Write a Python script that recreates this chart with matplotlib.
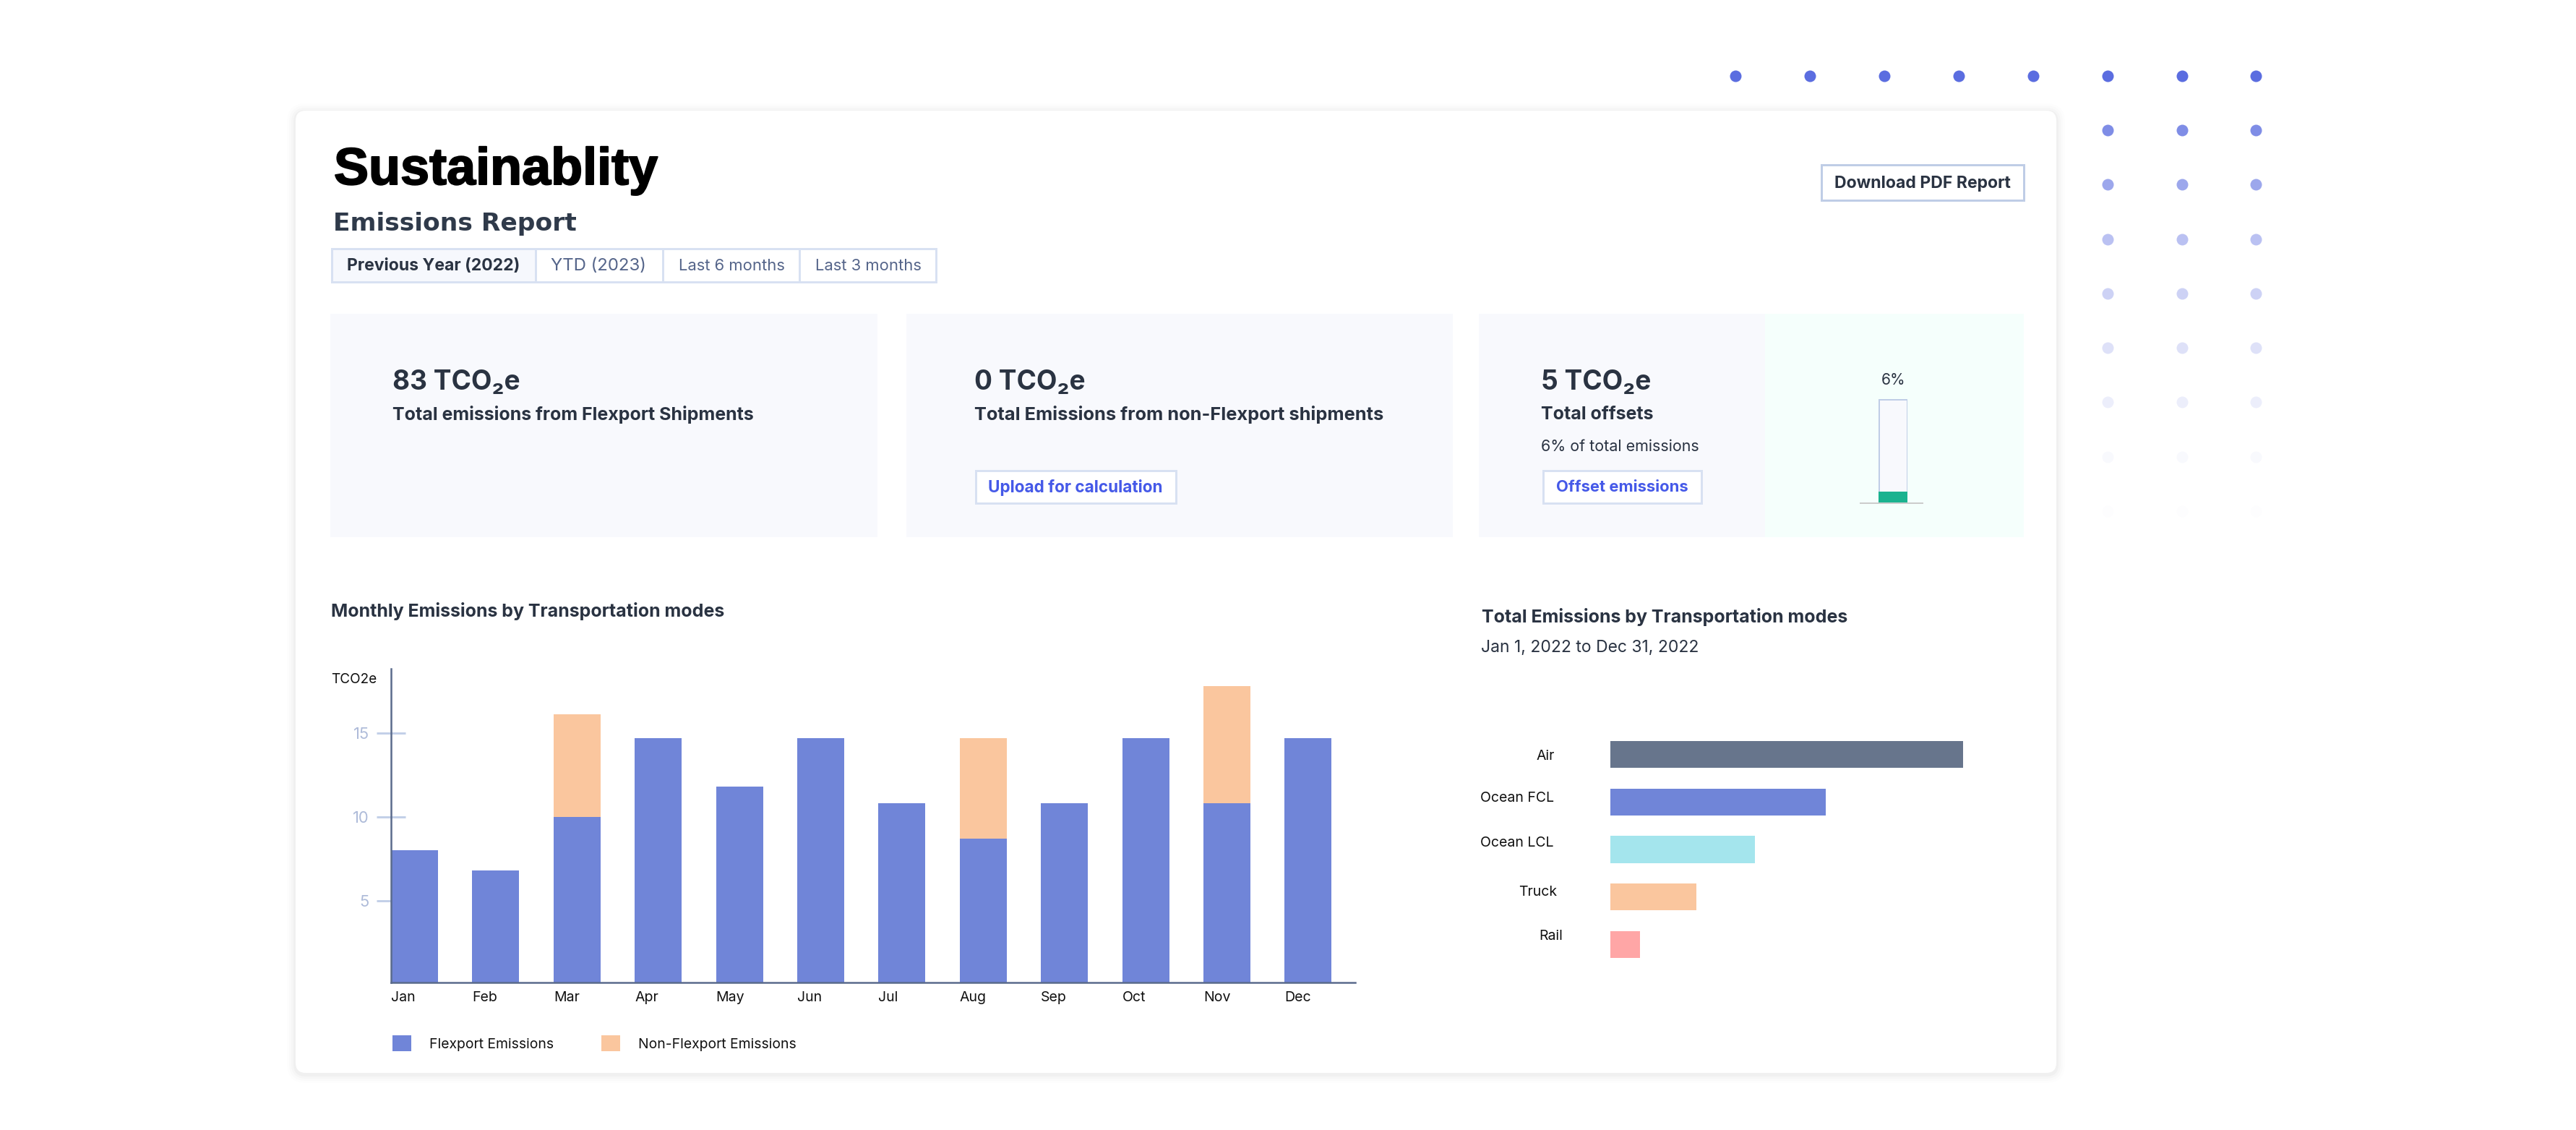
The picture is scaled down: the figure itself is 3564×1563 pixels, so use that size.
import numpy as np
import matplotlib
matplotlib.use('Agg')
import matplotlib.pyplot as plt
import matplotlib.patheffects as pe
from matplotlib.patches import FancyBboxPatch, Rectangle
from matplotlib.transforms import ScaledTranslation

W, H = 3564, 1563
DPI = 100
plt.rcParams['font.family'] = ['Inter', 'DejaVu Sans']

# данные
months = ['Jan', 'Feb', 'Mar', 'Apr', 'May', 'Jun', 'Jul', 'Aug', 'Sep', 'Oct', 'Nov', 'Dec']
flexport = [8.0, 6.8, 10.0, 14.7, 11.8, 14.7, 10.8, 8.7, 10.8, 14.7, 10.8, 14.7]
non_flexport = [0, 0, 6.1, 0, 0, 0, 0, 6.0, 0, 0, 7.0, 0]

modes = ['Air', 'Ocean FCL', 'Ocean LCL', 'Truck', 'Rail']
mode_values = [35.4, 21.6, 14.5, 8.6, 3.0]
mode_colors = ['#67758C', '#7085D8', '#A4E5ED', '#FAC69E', '#FFA6A6']

tabs = ['Previous Year (2022)', 'YTD (2023)', 'Last 6 months', 'Last 3 months']
offset_percent = 6

# декоративные точки
dot_cols = [2401, 2504, 2607, 2710, 2813, 2916, 3019, 3121]
dot_rows = [105, 180, 255, 331, 406, 481, 556, 632, 707]
dot_alpha = [1.0, 0.78, 0.6, 0.42, 0.3, 0.2, 0.11, 0.04, 0.012]

DARK = '#2A3342'
BLUE = '#4559E8'
LINE = '#D8E1F2'


def fs(px):
    return px * 72 / DPI


def px_axes(x0, y0, x1, y1):
    return fig.add_axes([x0 / W, 1 - y1 / H, (x1 - x0) / W, (y1 - y0) / H])


def box(x0, y0, x1, y1, fc='white', ec='none', lw=0, **kw):
    bg.add_patch(Rectangle((x0, y0), x1 - x0, y1 - y0, fc=fc, ec=ec,
                           lw=fs(lw), **kw))


def label(x, y, s, px, color=DARK, weight='normal', ha='left', family=None, va='center'):
    return bg.text(x, y, s, fontsize=fs(px), color=color, fontweight=weight, ha=ha, va=va,
                   family=family or ['Inter', 'DejaVu Sans'])


fig = plt.figure(figsize=(W / DPI, H / DPI), dpi=DPI, facecolor='white')

bg = fig.add_axes([0, 0, 1, 1])
bg.set_xlim(0, W)
bg.set_ylim(H, 0)
bg.axis('off')

# точки справа сверху
for j, y in enumerate(dot_rows):
    xs = dot_cols if j == 0 else dot_cols[5:]
    bg.scatter(xs, [y] * len(xs), s=fs(16) ** 2, color='#5B6DE0',
               alpha=dot_alpha[j], linewidths=0)

# карточка с тенью
for pad, a in [(12, 0.008), (9, 0.012), (6, 0.016), (3, 0.022)]:
    bg.add_patch(FancyBboxPatch((409 + 12, 153 + 14), 2845 - 409 - 24, 1484 - 153 - 24,
                                boxstyle=f'round,pad={12 + pad},rounding_size={14 + pad}',
                                fc='black', ec='none', alpha=a))
bg.add_patch(FancyBboxPatch((409 + 12, 153 + 12), 2845 - 409 - 24, 1484 - 153 - 24,
                            boxstyle='round,pad=12,rounding_size=14', fc='white', ec='none'))

# заголовки
title = label(462, 255, 'Sustainablity', 72, color='black', weight='bold', va='baseline',
              family=['Liberation Sans'])
title.set_path_effects([pe.withStroke(linewidth=fs(2), foreground='black')])
label(461, 319, 'Emissions Report', 34.5, color='#2F3A4A', weight='bold', va='baseline',
      family=['DejaVu Sans'])

# вкладки
tab_edges = [459, 741, 917, 1106, 1295]
tab_text_x = [480, 762, 939, 1128]
tab_px = [23, 24, 22, 22]
box(tab_edges[0], 344, tab_edges[1], 390, fc='#F6F8FD')
box(tab_edges[0], 344, tab_edges[-1], 390, fc='none', ec=LINE, lw=3)
for x in tab_edges[1:-1]:
    bg.plot([x, x], [344, 390], color=LINE, lw=fs(3))
for i, (tx, t) in enumerate(zip(tab_text_x, tabs)):
    label(tx, 368, t, tab_px[i], color=DARK if i == 0 else '#55658A',
          weight='bold' if i == 0 else 'normal')

# кнопка pdf
box(2520, 228, 2800, 277, fc='white', ec='#BFCDE6', lw=3)
label(2660, 254, 'Download PDF Report', 23, weight='bold', ha='center')

# панели
box(457, 434, 1214, 743, fc='#F8F9FD')
box(1254, 434, 2010, 743, fc='#F8F9FD')
box(2046, 434, 2442, 743, fc='#F8F9FD')
box(2442, 434, 2800, 743, fc='#F5FFFC')

label(543, 529, '83 TCO₂e', 37, weight='bold')
label(543, 574, 'Total emissions from Flexport Shipments', 25, weight='bold')
label(1348, 529, '0 TCO₂e', 37, weight='bold')
label(1348, 574, 'Total Emissions from non-Flexport shipments', 25.4, weight='bold')
label(2132, 529, '5 TCO₂e', 37, weight='bold')
label(2132, 574, 'Total offsets', 25, weight='bold')
label(2132, 618, '6% of total emissions', 21.5)

box(1350, 651, 1627, 696, fc='white', ec=LINE, lw=3)
label(1488, 674, 'Upload for calculation', 22.5, color=BLUE, weight='bold', ha='center')
box(2135, 651, 2354, 696, fc='white', ec=LINE, lw=3)
label(2244, 674, 'Offset emissions', 22, color=BLUE, weight='bold', ha='center')

# столбик оффсета
ax_off = px_axes(2599, 552, 2639, 695)
ax_off.bar([0], [57], width=1, color='#F8F9FD', edgecolor='#BFCDE6', linewidth=fs(3))
ax_off.bar([0], [offset_percent], width=1, color='#1BB28F')
ax_off.set_xlim(-0.5, 0.5)
ax_off.set_ylim(0, 57)
ax_off.axis('off')
bg.plot([2574, 2660], [696, 696], color='#CCCCCC', lw=fs(2))
label(2620, 526, f'{offset_percent}%', 21, ha='center')

# подписи секций
label(458, 846, 'Monthly Emissions by Transportation modes', 25, weight='bold')
label(2050, 853, 'Total Emissions by Transportation modes', 25, weight='bold')
label(2049, 896, 'Jan 1, 2022 to Dec 31, 2022', 22.9)

# столбчатая диаграмма
ax = px_axes(541, 925, 1875, 1359)
ax.patch.set_alpha(0)
x = np.arange(len(months))
flexport = np.array(flexport)
w = 65 / 112.4
ax.bar(x, flexport, w, color='#7085D8', label='Flexport Emissions')
ax.bar(x, non_flexport, w, bottom=flexport, color='#FAC69E', label='Non-Flexport Emissions')
ax.set_xlim(-0.289, 11.58)
ax.set_ylim(0.15, 0.15 + (1359 - 925) / 23.25)
ax.set_axisbelow(True)
for s in ['top', 'right']:
    ax.spines[s].set_visible(False)
for s in ['left', 'bottom']:
    ax.spines[s].set_color('#5A6B8C')
    ax.spines[s].set_linewidth(fs(2.5))
ax.set_yticks([5, 10, 15])
ax.tick_params(axis='y', direction='inout', length=fs(40), width=fs(3), color='#C3D0E8',
               labelcolor='#AEBBD9', labelsize=fs(22), pad=fs(10))
ax.set_xticks(x - w / 2, months, ha='left')
ax.tick_params(axis='x', length=0, labelsize=fs(19.5), pad=fs(12), labelcolor='#111111')
label(458, 940, 'TCO2e', 19, color='#111111')

handles, labels_ = ax.get_legend_handles_labels()
fig.legend(handles, labels_, loc='lower left', bbox_to_anchor=(543 / W, 1 - 1454 / H),
           frameon=False, ncol=2, fontsize=fs(19.3), handlelength=26 / 19.3, handleheight=26 / 19.3,
           handletextpad=25 / 19.3, columnspacing=66 / 19.3, borderpad=0, borderaxespad=0,
           labelcolor='#111111')

# горизонтальные столбцы
ax2 = px_axes(2228, 1011, 2800, 1339)
ax2.patch.set_alpha(0)
y = np.arange(len(modes))
ax2.barh(y, mode_values, 0.57, color=mode_colors)
ax2.set_xlim(0, 572 / 13.78)
ax2.set_ylim(len(modes) - 0.5, -0.5)
for s in ax2.spines.values():
    s.set_visible(False)
ax2.set_xticks([])
ax2.set_yticks(y, modes)
ax2.tick_params(axis='y', length=0, labelsize=fs(19.5), labelcolor='#111111', pad=fs(77))
# подписи слегка смещены относительно столбцов
label_dx = [0, -1, -1, 3, 11]
label_dy = [0, 7, 11, 9, 13]
for lab, dx, dy in zip(ax2.get_yticklabels(), label_dx, label_dy):
    lab.set_transform(lab.get_transform() + ScaledTranslation(dx / DPI, dy / DPI, fig.dpi_scale_trans))

fig.savefig('out.png', dpi=DPI)
